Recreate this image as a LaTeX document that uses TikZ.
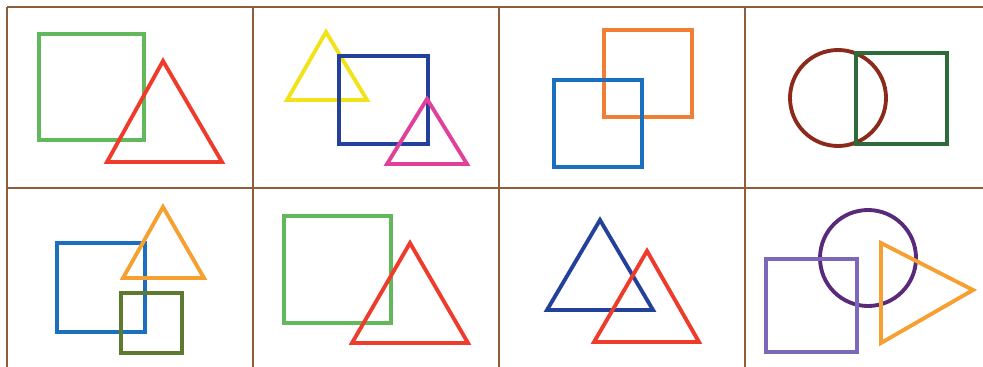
\documentclass[tikz,border=0pt]{standalone}
\usepackage{tikz}
\definecolor{gridbrown}{HTML}{8C5E3C}
\definecolor{lgreen}{HTML}{62B85A}
\definecolor{dgreen}{HTML}{2E6B3A}
\definecolor{olive}{HTML}{5E7A2E}
\definecolor{tred}{HTML}{EE3B2B}
\definecolor{tyellow}{HTML}{F2E21A}
\definecolor{navy}{HTML}{23409A}
\definecolor{tpink}{HTML}{E0409A}
\definecolor{torange}{HTML}{F07F35}
\definecolor{lorange}{HTML}{F5A030}
\definecolor{sblue}{HTML}{1A6FBF}
\definecolor{maroon}{HTML}{8B2A1A}
\definecolor{dpurple}{HTML}{5A2A7A}
\definecolor{lavender}{HTML}{7B68B8}

\begin{document}
\begin{tikzpicture}[x=0.03cm,y=-0.03cm,fig/.style={line width=3.3pt,line join=miter}]
\useasboundingbox (0,0) rectangle (983,367);
% grid
\foreach \y in {7,188}{\draw[gridbrown,line width=1.6pt] (7,\y)--(983,\y);}
\foreach \x in {7,253,499,745}{\draw[gridbrown,line width=1.6pt] (\x,7)--(\x,367);}
% top row
\draw[fig,lgreen] (39,34) rectangle (144,140);
\draw[fig,tred] (163,61)--(222,162)--(107,162)--cycle;
\draw[fig,tyellow] (326,32)--(367,100)--(287,100)--cycle;
\draw[fig,navy] (339,56) rectangle (428,144);
\draw[fig,tpink] (427,99)--(467,164)--(387,164)--cycle;
\draw[fig,torange] (604,30) rectangle (692,117);
\draw[fig,sblue] (554,80) rectangle (642,167);
\draw[fig,maroon] (838,98) circle (48);
\draw[fig,dgreen,line width=4pt] (856,53) rectangle (947,144);
% bottom row
\draw[fig,sblue] (57,243) rectangle (145,332);
\draw[fig,lorange] (163,207)--(204,278)--(123,278)--cycle;
\draw[fig,olive] (121,293) rectangle (182,353);
\draw[fig,lgreen] (284,216) rectangle (391,323);
\draw[fig,tred] (410,243)--(468,343)--(352,343)--cycle;
\draw[fig,navy] (600,220)--(653,310)--(547,310)--cycle;
\draw[fig,tred] (647,251)--(699,342)--(594,342)--cycle;
\draw[fig,dpurple] (868,258) circle (48);
\draw[fig,lavender] (766,259) rectangle (857,352);
\draw[fig,lorange] (881,243)--(973,290)--(881,343)--cycle;
\end{tikzpicture}
\end{document}
